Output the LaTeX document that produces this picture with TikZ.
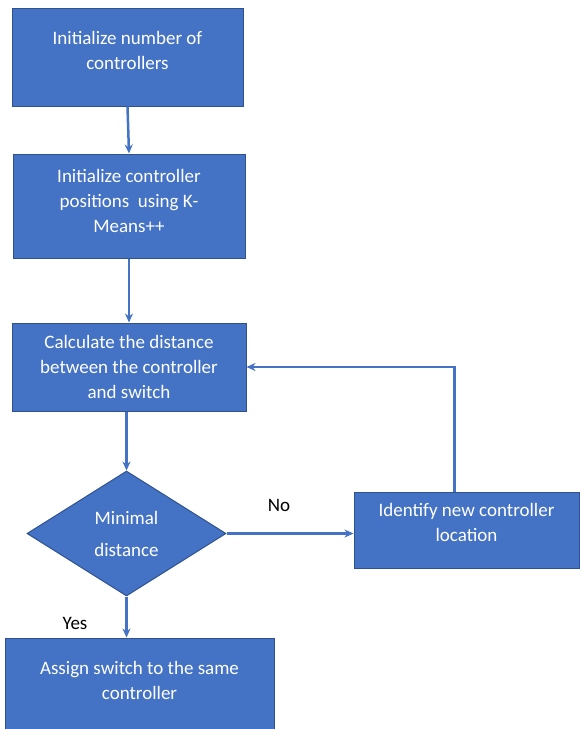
\documentclass[tikz,border=0pt]{standalone}
\usepackage{fontspec}
\setmainfont{Carlito}
\usetikzlibrary{shapes.geometric,arrows.meta}

\definecolor{boxblue}{HTML}{4472C4}
\definecolor{boxedge}{HTML}{2F528F}
\definecolor{linkblue}{HTML}{4472C4}

\begin{document}
\begin{tikzpicture}[x=1pt,y=-1pt,->,>={Stealth[length=9pt,width=8pt]},line width=2.5pt,color=linkblue,
    box/.style={rectangle,draw=boxedge,line width=1pt,fill=boxblue,text=white,align=center,
      font=\fontsize{19}{25}\selectfont,inner sep=0pt},
    decision/.style={diamond,draw=boxedge,line width=1pt,fill=boxblue,text=white,align=center,
      font=\fontsize{19}{25}\selectfont,inner sep=0pt},
    lbl/.style={text=black,font=\fontsize{19}{25}\selectfont}]
    \useasboundingbox (0,0) rectangle (579,729);

    % Nodes
    \node[box,minimum width=231pt,minimum height=98pt,text depth=14pt] (s1) at (127.5,57) {Initialize number of\\controllers};
    \node[box,minimum width=232pt,minimum height=104pt,text depth=11pt] (s2) at (129,206) {Initialize controller\\positions\ \ using K-\\Means++};
    \node[box,minimum width=234pt,minimum height=88pt] (s3) at (129,367) {Calculate the distance\\between the controller\\and switch};
    \node[decision,minimum width=199pt,minimum height=125pt] (m) at (126.5,533.5) {Minimal\\[7pt]distance};
    \node[box,minimum width=225pt,minimum height=76pt,text depth=16pt] (s4) at (466.5,530) {Identify new controller\\location};
    \node[box,minimum width=269pt,minimum height=91pt,text depth=7pt] (s5) at (139.5,683.5) {Assign switch to the same\\controller};

    % Labels
    \node[lbl] (no) at (279,505) {No};
    \node[lbl] (yes) at (75,623) {Yes};

    % Arrows
    \draw (s1.south) -- (s2.north);
    \draw (s2.south) -- (s3.north);
    \draw (s3.south -| m.north) -- (m.north);
    \draw (m.east) -- (m.east -| s4.west);
    \draw ([xshift=-12pt]s4.north) |- (s3.east);
    \draw (m.south) -- (m.south |- s5.north);
  \end{tikzpicture}
\end{document}
